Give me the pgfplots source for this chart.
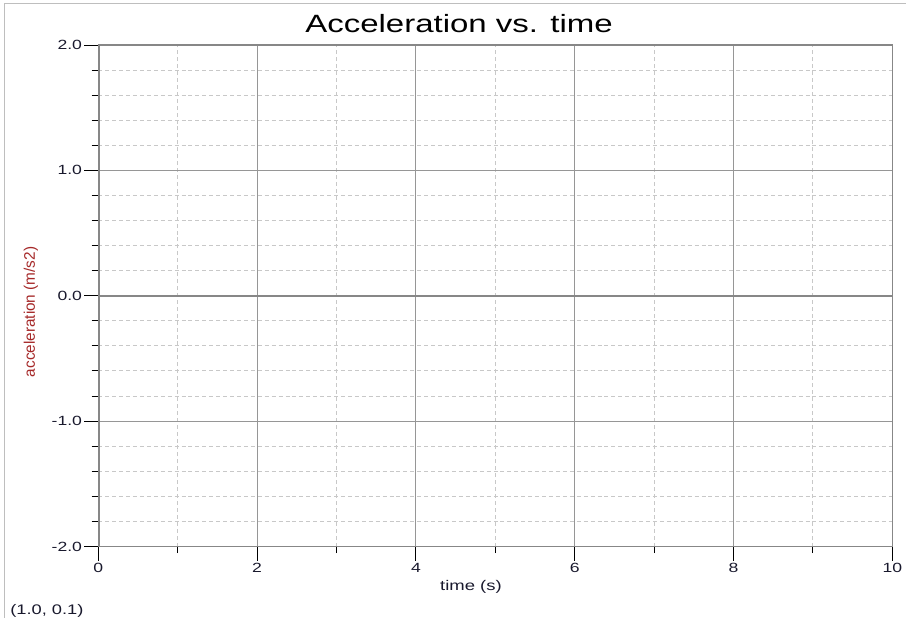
\documentclass[border=0pt]{standalone}
\usepackage{pgfplots}
\pgfplotsset{compat=1.18}
\usepackage{fontspec}
\setmainfont{Liberation Sans}
\newfontfamily\wide[FakeStretch=1.32]{Liberation Sans}
\definecolor{majgrid}{RGB}{150,150,150}
\definecolor{mingrid}{RGB}{200,200,200}
\definecolor{axgray}{RGB}{135,135,135}
\definecolor{framegray}{RGB}{190,190,190}
\definecolor{labred}{RGB}{165,40,40}
\definecolor{ticktext}{RGB}{25,25,45}
\begin{document}
\begin{tikzpicture}
\begin{axis}[
at={(0pt,0pt)}, anchor=south west,
scale only axis,
width=595.5pt, height=376.1pt,
xmin=0, xmax=10, ymin=-2, ymax=2,
xtick={0,2,4,6,8,10},
xticklabels={0,2,4,6,8,10},
minor xtick={1,3,5,7,9},
ytick={-2,-1,0,1,2},
yticklabels={-2.0,-1.0,0.0,1.0,2.0},
minor ytick={-1.8,-1.6,-1.4,-1.2,-0.8,-0.6,-0.4,-0.2,0.2,0.4,0.6,0.8,1.2,1.4,1.6,1.8},
grid=both,
major grid style={majgrid, line width=0.75pt},
minor grid style={mingrid, line width=0.75pt, dash pattern=on 3pt off 2.2pt},
axis line style={axgray, line width=1pt},
tick align=outside,
xtick pos=left, ytick pos=left,
major tick length=10.5pt,
minor tick length=5pt,
tick style={black, line width=0.75pt},
ticklabel style={font=\wide\fontsize{10}{12}\selectfont, text=ticktext},
yticklabel style={inner sep=1.5pt},
xticklabel style={inner sep=2pt},
]
\draw[axgray, line width=2.2pt] (axis cs:0,-2) -- (axis cs:0,2);
\draw[axgray, line width=1.2pt] (axis cs:0,0) -- (axis cs:10,0);
\end{axis}
\begin{scope}[x=0.75pt, y=-0.75pt, shift={(-73.725pt,409.875pt)}]
% frame of the screenshot
\draw[framegray, line width=1.1pt] (4.5,3.3) -- (906,3.3);
\draw[framegray, line width=1.1pt] (4.5,3.3) -- (4.5,618);
\node[anchor=base, inner sep=0pt, font=\wide\fontsize{18.75}{22}\selectfont] at (459,32.3) {Acceleration vs. time};
\node[anchor=base, inner sep=0pt, font=\wide\fontsize{10.5}{12}\selectfont, text=ticktext] at (471,590) {time (s)};
\node[rotate=90, inner sep=0pt, font=\fontsize{11.5}{13}\selectfont, text=labred] at (31,312) {acceleration (m/s2)};
\node[anchor=base west, inner sep=0pt, font=\wide\fontsize{10.4}{12}\selectfont, text=ticktext] at (10,614) {(1.0, 0.1)};
\end{scope}
\pgfresetboundingbox
\useasboundingbox (-73.725pt,-56.625pt) rectangle (605.775pt,409.875pt);
\end{tikzpicture}
\end{document}
